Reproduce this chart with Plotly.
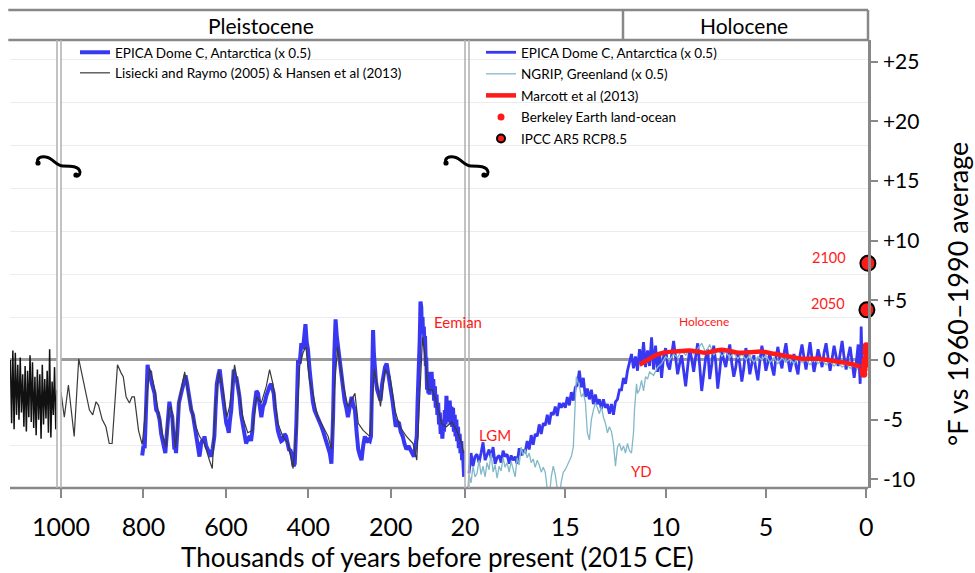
import plotly.graph_objects as go

FONT = "Lato"
BLUE = "#3838f2"
TEAL = "#82b9c8"
RED = "#ff1a1a"

# ---------------- data (ages in thousands of years before 2015, temps in °F vs 1960-1990) ----
# Lisiecki & Raymo / Hansen, oldest compressed segment
lr_old_age = [2140, 2110, 2080, 2050, 2020, 1990, 1960, 1930, 1900, 1870, 1840, 1810, 1780,
              1750, 1720, 1690, 1660, 1630, 1600, 1570, 1540, 1510, 1480, 1450, 1420, 1390,
              1360, 1330, 1300, 1270, 1240, 1210, 1180, 1150, 1120, 1090, 1060, 1030, 1005]
lr_old_temp = [0.0, -5.3, 0.8, -5.8, 0.6, -4.6, -0.4, -5.0, 0.2, -4.4, -1.2, -5.6, -0.5,
               -6.0, -0.9, -4.8, 0.4, -5.2, -0.2, -5.7, -1.4, -6.3, -0.8, -5.0, -1.2, -6.6,
               -0.4, -5.4, -1.6, -4.9, -0.9, -6.1, 0.9, -6.5, -1.8, -4.6, -0.6, -5.8, -2.5]

# Lisiecki & Raymo (2005) & Hansen et al (2013), 1000 -> 24 kyr
lr_pairs = [(1000, -2.7), (992, -4.8), (982, -2.1), (968, -6.4), (957, 0.1), (948, -1.4),
            (939, -3.1), (931, -4.2), (923, -4.6), (915, -3.5), (909, -3.8), (900, -5.0),
            (891, -5.6), (883, -7.0), (876, -7.0), (863, -0.4), (854, -1.1), (849, -1.4),
            (842, -3.1), (834, -3.6), (828, -3.1), (822, -3.1), (818, -4.2), (812, -5.9),
            (803, -7.1), (785, -0.7), (777, -1.7), (765, -4.2), (753, -6.4), (745, -7.3),
            (739, -4.2), (733, -3.9), (722, -7.4), (713, -3.4), (700, -1.0), (688, -3.4),
            (676, -5.3), (664, -6.4), (652, -7.0), (640, -8.4), (633, -9.1), (625, -3.6),
            (617, -1.0), (607, -2.5), (598, -4.8), (591, -3.9), (579, -0.4), (571, -2.0),
            (559, -4.8), (547, -6.1), (535, -5.9), (526, -3.1), (514, -3.6), (502, -2.2),
            (494, -0.8), (486, -2.0), (474, -5.3), (462, -6.4), (449, -7.0), (437, -9.1),
            (429, -5.9), (421, -0.5), (413, 0.6), (406, 1.1), (397, -1.7), (389, -2.8),
            (377, -4.8), (364, -5.6), (352, -6.4), (344, -7.5), (336, -2.0), (329, 1.1),
            (324, 0.0), (316, -2.0), (304, -3.9), (287, -2.8), (279, -5.3), (267, -5.9),
            (251, -6.4), (240, -0.8), (233, -2.0), (225, -3.9), (214, -0.8), (202, -1.4),
            (190, -4.2), (178, -5.6), (162, -6.4), (146, -7.0), (137, -8.4), (129, -2.0),
            (123, 1.9), (117, 0.3), (109, -2.5), (99, -2.5), (89, -3.6), (77, -5.3),
            (65, -5.6), (52, -5.2), (40, -5.9), (28, -7.0), (24, -7.8)]
lr_age = [a for a, t in lr_pairs]
lr_temp = [t for a, t in lr_pairs]

# EPICA Dome C (x 0.5), 800 -> 22 kyr
epica_b_pairs = [
    (803, -8.0), (800, -7.2), (797, -7.4), (793, -3.5), (790, -0.4), (787, -1.2), (784, -0.9),
    (781, -1.8), (777, -2.2), (773, -2.8), (771, -3.6), (769, -4.2), (765, -4.4), (761, -5.0),
    (757, -6.2), (753, -7.0), (750, -7.3), (747, -7.8), (744, -6.5), (741, -5.3), (739, -4.0),
    (737, -3.5), (734, -4.2), (730, -4.8), (727, -6.5), (725, -7.5), (723, -7.2), (721, -7.8),
    (717, -5.5), (714, -3.6), (710, -3.0), (706, -2.5), (702, -1.8), (698, -1.3), (694, -2.0),
    (690, -2.8), (687, -3.8), (684, -4.2), (680, -4.6), (676, -5.6), (672, -6.2), (668, -7.5),
    (666, -7.8), (664, -8.1), (660, -7.0), (657, -6.7), (654, -6.9), (652, -6.4), (648, -7.2),
    (644, -7.5), (640, -7.9), (636, -8.1), (632, -7.4), (628, -6.4), (625, -4.0), (622, -2.0),
    (618, -1.2), (615, -0.8), (611, -2.0), (607, -3.1), (603, -4.6), (599, -5.3), (596, -5.6),
    (593, -6.1), (590, -5.0), (587, -4.2), (584, -2.5), (581, -0.8), (578, -1.6), (575, -1.4),
    (571, -2.2), (567, -3.1), (563, -4.6), (559, -5.6), (555, -6.3), (551, -7.0), (547, -6.6),
    (542, -6.4), (539, -6.8), (536, -6.0), (533, -4.5), (530, -3.4), (526, -2.6), (522, -2.8),
    (518, -4.0), (514, -4.8), (510, -3.9), (506, -3.6), (502, -3.0), (498, -2.5), (494, -2.2),
    (490, -2.0), (487, -2.5), (484, -2.8), (481, -4.0), (478, -5.0), (474, -5.9), (470, -6.4),
    (466, -6.8), (462, -6.7), (458, -6.2), (454, -6.4), (450, -7.2), (447, -7.5), (443, -7.6),
    (439, -8.1), (436, -8.9), (433, -8.7), (429, -5.3), (425, 0.0), (421, -0.3), (417, 1.4),
    (413, 0.9), (409, 2.0), (407, 3.0), (404, 1.5), (401, 0.9), (397, -0.8), (393, -2.5),
    (389, -3.5), (385, -4.2), (381, -4.5), (377, -4.8), (373, -5.2), (368, -5.6), (364, -6.0),
    (360, -6.4), (356, -6.9), (352, -7.3), (348, -7.8), (344, -8.7), (340, -4.8), (337, 0.5),
    (334, 3.4), (331, 2.0), (328, 1.1), (324, -0.5), (320, -1.4), (316, -2.4), (312, -3.4),
    (308, -4.0), (304, -4.8), (300, -4.0), (295, -3.1), (291, -3.8), (287, -4.2), (283, -6.0),
    (279, -7.5), (275, -8.0), (271, -8.4), (267, -7.2), (263, -6.4), (259, -6.9), (255, -6.7),
    (251, -6.8), (248, -6.4), (245, -1.0), (243, 2.5), (241, 0.5), (239, -0.6), (236, -1.8),
    (233, -2.5), (229, -3.0), (225, -3.4), (221, -2.0), (217, -1.1), (214, -0.6), (210, -0.3),
    (207, -0.9), (204, -1.4), (200, -2.4), (196, -3.4), (192, -4.5), (188, -5.6), (184, -5.2),
    (180, -5.3), (176, -6.0), (171, -6.4), (167, -7.0), (162, -7.5), (157, -7.2), (152, -7.5),
    (148, -7.8), (144, -8.1), (141, -7.4), (137, -6.4), (135, -3.5), (132, -1.4), (130, 1.5),
    (129, 3.0), (128, 4.9), (127, 3.5), (126, 4.4), (125, 3.0), (123, 3.6), (122, 2.2),
    (120, 2.8), (118, 1.2), (117, 2.0), (115, -0.5), (114, 0.2), (112, -2.5), (111, -1.0),
    (109, -2.8), (108, -1.2), (106, -2.9), (105, -1.5), (103, -2.6), (101, -1.0), (99, -2.4),
    (97, -1.6), (95, -3.4), (93, -2.2), (91, -4.0), (89, -2.9), (87, -4.6), (85, -3.6),
    (83, -5.4), (81, -4.4), (79, -6.2), (77, -5.0), (75, -6.6), (73, -5.6), (71, -6.0),
    (69, -4.2), (67, -5.4), (65, -3.0), (63, -5.0), (61, -3.6), (59, -5.2), (57, -3.4),
    (55, -5.4), (53, -3.9), (51, -5.6), (49, -4.0), (47, -6.0), (45, -4.6), (43, -6.4),
    (41, -5.0), (39, -6.8), (37, -5.6), (35, -7.4), (33, -6.2), (31, -7.8), (29, -6.8),
    (27, -8.4), (25, -7.6), (23, -9.2), (22, -9.8)]
epica_b_age = [a for a, t in epica_b_pairs]
epica_b_temp = [t for a, t in epica_b_pairs]

# EPICA Dome C (x 0.5), last 20 kyr
epica_c_pairs = [
    (19.8, -9.5), (19.7, -7.8), (19.6, -8.9), (19.5, -8.1), (19.4, -7.9), (19.3, -8.6),
    (19.2, -7.8), (19.1, -6.9), (19.0, -8.4), (18.9, -8.0), (18.8, -7.5), (18.7, -8.2),
    (18.6, -7.3), (18.5, -8.7), (18.4, -8.2), (18.3, -8.0), (18.2, -8.6), (18.1, -7.6),
    (18.0, -8.1), (17.9, -7.9), (17.8, -8.7), (17.7, -8.0), (17.6, -8.4), (17.5, -8.1),
    (17.4, -8.7), (17.3, -7.4), (17.2, -8.0), (17.1, -7.6), (17.0, -7.7), (16.9, -6.8),
    (16.8, -7.5), (16.7, -6.3), (16.6, -7.1), (16.5, -6.2), (16.4, -6.4), (16.3, -5.4),
    (16.2, -6.2), (16.1, -5.3), (16.0, -5.5), (15.9, -4.6), (15.8, -5.4), (15.7, -4.4),
    (15.6, -4.6), (15.5, -3.9), (15.4, -4.7), (15.3, -3.6), (15.2, -4.0), (15.1, -3.6),
    (15.0, -4.0), (14.9, -3.1), (14.8, -3.8), (14.7, -2.7), (14.6, -3.4), (14.5, -2.3),
    (14.4, -2.1), (14.3, -0.9), (14.2, -2.3), (14.1, -1.5), (14.0, -3.1), (13.9, -2.4),
    (13.8, -3.3), (13.7, -2.5), (13.6, -3.7), (13.5, -2.9), (13.4, -3.7), (13.3, -3.3),
    (13.2, -4.1), (13.1, -3.3), (13.0, -4.0), (12.9, -3.7), (12.8, -4.5), (12.7, -3.7),
    (12.6, -4.6), (12.5, -3.5), (12.4, -3.3), (12.3, -2.5), (12.2, -2.5), (12.1, -1.5),
    (12.0, -2.0), (11.9, -0.9), (11.8, -0.3), (11.7, 0.5), (11.6, -0.7), (11.5, 0.3),
    (11.4, -0.9), (11.3, 0.9), (11.2, -0.3), (11.1, 1.5), (11.0, -0.6), (10.9, 0.8),
    (10.8, -0.5), (10.7, 1.9), (10.6, -0.8), (10.5, 1.2), (10.4, -1.0), (10.3, 0.6),
    (10.2, -1.5), (10.1, 0.3), (10.0, 1.0), (9.9, -0.4), (9.8, -0.8), (9.7, 0.6), (9.6, 1.6),
    (9.5, 0.2), (9.4, -1.2), (9.3, -0.3), (9.2, 0.4), (9.1, -0.9), (9.0, -2.2), (8.9, -0.6),
    (8.8, 0.9), (8.7, 0.1), (8.6, -1.0), (8.5, 0.3), (8.4, 1.4), (8.3, -0.5), (8.2, -2.6),
    (8.1, -1.2), (8.0, 0.2), (7.9, 0.9), (7.8, -1.6), (7.7, -0.4), (7.6, 1.2), (7.5, -0.2),
    (7.4, -2.4), (7.3, -0.9), (7.2, 0.8), (7.1, 0.0), (7.0, -0.6), (6.9, 0.5), (6.8, 1.3),
    (6.7, -0.3), (6.6, -1.4), (6.5, -0.6), (6.4, 0.7), (6.3, -0.4), (6.2, -1.8), (6.1, -0.7),
    (6.0, 1.0), (5.9, 0.2), (5.8, -1.2), (5.7, -0.3), (5.6, 0.4), (5.5, -0.8), (5.4, -1.7),
    (5.3, -0.1), (5.2, 1.2), (5.1, 0.3), (5.0, -0.9), (4.9, -0.2), (4.8, 0.6), (4.7, -0.6),
    (4.6, -1.3), (4.5, 0.2), (4.4, 1.1), (4.3, 0.0), (4.2, -0.7), (4.1, 0.5), (4.0, 1.4),
    (3.9, 0.1), (3.8, -1.0), (3.7, -0.2), (3.6, 0.5), (3.5, -0.5), (3.4, -1.2), (3.3, 0.4),
    (3.2, 1.3), (3.1, 0.2), (3.0, -0.8), (2.9, 0.3), (2.8, 1.5), (2.7, 0.1), (2.6, -1.0),
    (2.5, -0.1), (2.4, 0.9), (2.3, 0.2), (2.2, -0.6), (2.1, 0.6), (2.0, 1.4), (1.9, 0.2),
    (1.8, -0.9), (1.7, 0.1), (1.6, 1.2), (1.5, 0.3), (1.4, -0.5), (1.3, 0.5), (1.2, 1.6),
    (1.1, 0.2), (1.0, -0.8), (0.9, 0.3), (0.8, 1.1), (0.7, -0.2), (0.6, -1.5), (0.5, -0.3),
    (0.4, 1.3), (0.3, -2.0), (0.25, 2.8), (0.2, -0.5)]
epica_c_age = [a for a, t in epica_c_pairs]
epica_c_temp = [t for a, t in epica_c_pairs]

# NGRIP, Greenland (x 0.5)
ngrip_pairs = [
    (19.9, -11.5), (19.8, -9.6), (19.7, -10.3), (19.6, -8.9), (19.5, -9.8), (19.4, -9.5),
    (19.3, -8.4), (19.2, -9.6), (19.1, -8.9), (19.0, -9.8), (18.9, -8.6), (18.8, -9.2),
    (18.7, -7.8), (18.6, -9.4), (18.5, -8.8), (18.4, -9.9), (18.3, -8.9), (18.2, -9.3),
    (18.1, -8.2), (18.0, -9.0), (17.9, -8.6), (17.8, -9.4), (17.7, -8.5), (17.6, -9.2),
    (17.5, -9.8), (17.4, -8.2), (17.3, -8.8), (17.2, -7.3), (17.1, -8.0), (17.0, -7.5),
    (16.9, -8.2), (16.8, -7.8), (16.7, -8.6), (16.6, -8.3), (16.5, -9.0), (16.4, -8.4),
    (16.3, -8.8), (16.2, -9.4), (16.1, -9.0), (16.0, -9.4), (15.9, -10.8), (15.8, -11.5),
    (15.7, -9.8), (15.6, -8.9), (15.5, -9.6), (15.4, -10.8), (15.3, -11.5), (15.2, -10.2),
    (15.1, -9.4), (15.0, -9.2), (14.9, -8.8), (14.8, -8.4), (14.7, -8.1), (14.6, -7.3),
    (14.55, -5.5), (14.5, -3.4), (14.45, -1.4), (14.4, -1.7), (14.3, -2.2), (14.2, -3.1),
    (14.1, -2.8), (14.0, -3.5), (13.9, -6.1), (13.8, -6.7), (13.7, -5.0), (13.6, -4.2),
    (13.5, -3.6), (13.4, -4.0), (13.3, -4.5), (13.2, -3.9), (13.1, -4.8), (13.0, -5.3),
    (12.9, -6.1), (12.8, -5.6), (12.7, -6.0), (12.6, -7.0), (12.5, -8.9), (12.4, -7.3),
    (12.3, -7.0), (12.2, -7.6), (12.1, -7.2), (12.0, -7.8), (11.9, -7.0), (11.8, -7.6),
    (11.7, -7.8), (11.6, -6.1), (11.55, -4.2), (11.45, -2.0), (11.4, -2.8), (11.3, -2.5),
    (11.2, -1.7), (11.1, -2.6), (11.0, -1.4), (10.9, -1.6), (10.8, -1.0), (10.6, -1.3),
    (10.4, -0.6), (10.2, -0.3), (10.0, 0.3), (9.8, 0.0), (9.6, 0.5), (9.4, 0.2), (9.2, 0.8),
    (9.0, 0.4), (8.8, 0.9), (8.6, 0.5), (8.4, 1.0), (8.2, 1.4), (8.0, 0.6), (7.8, 1.3),
    (7.6, 0.4), (7.4, 0.9), (7.2, 0.3), (7.0, 0.7), (6.8, 0.2), (6.6, 0.6), (6.4, 0.1),
    (6.2, 0.5), (6.0, 0.0), (5.8, 0.4), (5.6, -0.2), (5.4, 0.3), (5.2, 0.0), (5.0, 0.4),
    (4.8, -0.2), (4.6, 0.2), (4.4, -0.3), (4.2, 0.2), (4.0, -0.2), (3.8, 0.1), (3.6, -0.3),
    (3.4, 0.2), (3.2, -0.2), (3.0, 0.0), (2.8, -0.4), (2.6, 0.1), (2.4, -0.3), (2.2, 0.0),
    (2.0, -0.4), (1.8, -0.1), (1.6, -0.5), (1.4, -0.2), (1.2, -0.6), (1.0, -0.3), (0.8, -0.7),
    (0.6, -0.4), (0.4, -0.8)]
ngrip_age = [a for a, t in ngrip_pairs]
ngrip_temp = [t for a, t in ngrip_pairs]

# Marcott et al (2013)
marcott_age = [11.3, 10.9, 10.5, 10.1, 9.7, 9.2, 8.8, 8.4, 8.0, 7.6, 7.2, 6.8, 6.35, 5.8,
               5.2, 4.7, 4.2, 3.7, 3.2, 2.8, 2.4, 1.9, 1.4, 1.0, 0.6, 0.3]
marcott_temp = [-0.4, 0.0, 0.4, 0.6, 0.7, 0.75, 0.8, 0.7, 0.6, 0.75, 0.85, 0.75, 0.6, 0.65,
                0.7, 0.55, 0.4, 0.25, 0.1, 0.1, 0.1, 0.0, -0.15, -0.25, -0.4, -0.55]

# Berkeley Earth land-ocean (1850-2015)
berkeley_age = [0.165, 0.15, 0.135, 0.12, 0.105, 0.09, 0.075, 0.06, 0.045, 0.03, 0.015, 0.005, 0.0]
berkeley_temp = [-0.9, -1.1, -1.0, -1.2, -0.8, -0.5, -0.4, -0.1, -0.3, 0.1, 0.6, 0.9, 1.2]

# IPCC AR5 RCP8.5 projections (2050, 2100 -> negative ages)
ipcc_age = [-0.035, -0.085]
ipcc_temp = [4.2, 8.1]
ipcc_label = ["2050", "2100"]

# axis ticks
b_tickvals = [1000, 800, 600, 400, 200, 20]
c_tickvals = [15, 10, 5, 0]
y_tickvals = [-10, -5, 0, 5, 10, 15, 20, 25]
y_ticktext = ["-10", "-5", "0", "+5", "+10", "+15", "+20", "+25"]
grid_vals = [-7.2, -3.6, 3.6, 7.2, 10.8, 14.4, 18.0, 21.6, 25.2]   # every 2 °C

# ---------------- geometry helpers (pixel layout of the frame) ----------------
PL, PR, PT, PB = 10, 868, 40, 488


def fx(px):
    return (px - PL) / (PR - PL)


def fy(py):
    return (PB - py) / (PB - PT)


Y_RANGE = [-10.73, 26.82]
C_RANGE = [20, -0.09]

fig = go.Figure()

fig.add_trace(go.Scatter(x=lr_old_age, y=lr_old_temp, xaxis="x", yaxis="y", mode="lines",
                         line=dict(color="#111111", width=1.5), showlegend=False,
                         hoverinfo="skip"))
fig.add_trace(go.Scatter(x=epica_b_age, y=epica_b_temp, xaxis="x2", yaxis="y", mode="lines",
                         line=dict(color=BLUE, width=4),
                         name="EPICA Dome C, Antarctica (x 0.5)", legend="legend",
                         legendgroup="g1"))
fig.add_trace(go.Scatter(x=lr_age, y=lr_temp, xaxis="x2", yaxis="y", mode="lines",
                         line=dict(color="#3a3a3a", width=1.2),
                         name="Lisiecki and Raymo (2005) & Hansen et al (2013)",
                         legend="legend", legendgroup="g2"))

fig.add_trace(go.Scatter(x=epica_c_age, y=epica_c_temp, xaxis="x3", yaxis="y", mode="lines",
                         line=dict(color=BLUE, width=2.8),
                         name="EPICA Dome C, Antarctica (x 0.5)", legend="legend2",
                         legendgroup="h1"))
fig.add_trace(go.Scatter(x=ngrip_age, y=ngrip_temp, xaxis="x3", yaxis="y", mode="lines",
                         line=dict(color=TEAL, width=1.3),
                         name="NGRIP, Greenland (x 0.5)", legend="legend2", legendgroup="h2"))
fig.add_trace(go.Scatter(x=marcott_age, y=marcott_temp, xaxis="x3", yaxis="y", mode="lines",
                         line=dict(color=RED, width=4.5, shape="spline"),
                         name="Marcott et al (2013)", legend="legend2", legendgroup="h3"))
fig.add_trace(go.Scatter(x=berkeley_age, y=berkeley_temp, xaxis="x3", yaxis="y",
                         mode="markers", marker=dict(color=RED, size=7),
                         cliponaxis=False,
                         name="Berkeley Earth land-ocean", legend="legend2", legendgroup="h4"))
# legend entry for IPCC (small symbol like the original legend)
fig.add_trace(go.Scatter(x=[None], y=[None], xaxis="x3", yaxis="y", mode="markers",
                         marker=dict(color=RED, size=8, line=dict(color="black", width=2)),
                         name="IPCC AR5 RCP8.5", legend="legend2", legendgroup="h5"))
fig.add_trace(go.Scatter(x=ipcc_age, y=ipcc_temp, xaxis="x3", yaxis="y", mode="markers",
                         marker=dict(color=RED, size=15, line=dict(color="black", width=2)),
                         cliponaxis=False, showlegend=False, legendgroup="h5"))

tick_common = dict(ticks="outside", ticklen=9, tickwidth=2, tickcolor="#888888",
                   showgrid=False, zeroline=False, showline=False, automargin=False,
                   tickfont=dict(size=25, family=FONT, color="black"),
                   ticklabelstandoff=8, fixedrange=True)

fig.update_layout(
    width=975, height=573,
    margin=dict(l=PL, r=975 - PR, t=PT, b=573 - PB, autoexpand=False),
    paper_bgcolor="white", plot_bgcolor="white",
    font=dict(family=FONT, color="black"),
    showlegend=True,
    xaxis=dict(domain=[0, fx(57)], range=[2150, 1000], showgrid=False, zeroline=False,
               showticklabels=False, ticks="", showline=False, fixedrange=True,
               automargin=False),
    xaxis2=dict(domain=[fx(61), fx(465)], range=[1000, 20], tickvals=b_tickvals,
                ticktext=[str(v) for v in b_tickvals], **tick_common),
    xaxis3=dict(domain=[fx(465), 1.0], range=C_RANGE, tickvals=c_tickvals,
                ticktext=[str(v) for v in c_tickvals], **tick_common),
    yaxis=dict(anchor="x3", side="right", range=Y_RANGE, tickvals=y_tickvals,
               ticktext=y_ticktext, showgrid=False, automargin=False,
               minor=dict(tickvals=grid_vals, showgrid=True, gridcolor="#ececec",
                          gridwidth=1, ticks=""),
               zeroline=True, zerolinecolor="#9a9a9a", zerolinewidth=2.5,
               ticks="outside", ticklen=7, tickwidth=2, tickcolor="#888888",
               showline=True, linecolor="#888888", linewidth=2.5,
               tickfont=dict(size=21, family=FONT, color="black"),
               ticklabelstandoff=1, fixedrange=True),
    legend=dict(x=fx(75), y=fy(37), xanchor="left", yanchor="top",
                bgcolor="rgba(0,0,0,0)", font=dict(size=13.5, family=FONT, color="black"),
                traceorder="grouped", tracegroupgap=0, itemwidth=30),
    legend2=dict(x=fx(481), y=fy(37), xanchor="left", yanchor="top",
                 bgcolor="rgba(0,0,0,0)", font=dict(size=13.5, family=FONT, color="black"),
                 traceorder="grouped", tracegroupgap=1, itemwidth=30),
)

shapes = []
GRAY = "#888888"
# bottom axis line
shapes.append(dict(type="line", xref="paper", yref="paper", x0=0, x1=1, y0=0, y1=0,
                   line=dict(color=GRAY, width=2.5), layer="above"))
# header band
htop = fy(10)
shapes.append(dict(type="line", xref="paper", yref="paper", x0=-0.002, x1=1, y0=htop, y1=htop,
                   line=dict(color=GRAY, width=2.5), layer="above"))
shapes.append(dict(type="line", xref="paper", yref="paper", x0=-0.002, x1=1, y0=1, y1=1,
                   line=dict(color=GRAY, width=2.5), layer="above"))
shapes.append(dict(type="line", xref="paper", yref="paper", x0=1, x1=1, y0=1, y1=htop,
                   line=dict(color=GRAY, width=2.5), layer="above"))
shapes.append(dict(type="line", xref="paper", yref="paper", x0=fx(623), x1=fx(623), y0=1,
                   y1=htop, line=dict(color=GRAY, width=2.5), layer="above"))
# axis-break double lines
for px in (57, 61, 465, 469):
    shapes.append(dict(type="line", xref="paper", yref="paper", x0=fx(px), x1=fx(px), y0=0,
                       y1=1, line=dict(color="#b4b4b4", width=1.6), layer="above"))


# break squiggles
def squiggle(cx, cy):
    pts = [("M", [(-21, -3)]), ("C", [(-23, -8), (-18, -10), (-13, -9)]),
           ("C", [(-6, -8), (-3, 0), (4, 0)]), ("C", [(12, 0), (20, 0), (21, 6)]),
           ("C", [(21, 10), (18, 11), (17, 9)])]
    s = ""
    for cmd, ps in pts:
        s += cmd + " " + " ".join(f"{fx(cx + dx):.5f},{fy(cy + dy):.5f}" for dx, dy in ps) + " "
    out = [dict(type="path", xref="paper", yref="paper", path=s.strip(),
                line=dict(color="black", width=3), layer="above")]
    for (dx, dy) in [(-21, -3), (17, 9)]:
        r = 2.6
        out.append(dict(type="circle", xref="paper", yref="paper",
                        x0=fx(cx + dx - r), x1=fx(cx + dx + r),
                        y0=fy(cy + dy + r), y1=fy(cy + dy - r),
                        fillcolor="black", line=dict(color="black", width=0), layer="above"))
    return out


shapes += squiggle(59, 166)
shapes += squiggle(467, 166)

annotations = [
    dict(text="Pleistocene", xref="paper", yref="paper", x=fx(261), y=fy(25), showarrow=False,
         font=dict(size=21, family=FONT, color="black"), xanchor="center", yanchor="middle"),
    dict(text="Holocene", xref="paper", yref="paper", x=fx(744), y=fy(25), showarrow=False,
         font=dict(size=21, family=FONT, color="black"), xanchor="center", yanchor="middle"),
    dict(text="Thousands of years before present (2015 CE)", xref="paper", yref="paper",
         x=fx(437), y=fy(557), showarrow=False, font=dict(size=26, family=FONT, color="black"),
         xanchor="center", yanchor="middle"),
    dict(text="°F vs 1960–1990 average", xref="paper", yref="paper", x=fx(957), y=fy(294),
         showarrow=False, textangle=-90, font=dict(size=27, family=FONT, color="black"),
         xanchor="center", yanchor="middle"),
    dict(text="Eemian", xref="x2", yref="y", x=37, y=3.2, showarrow=False,
         font=dict(size=15, family=FONT, color=RED)),
    dict(text="LGM", xref="x3", yref="y", x=18.5, y=-6.3, showarrow=False,
         font=dict(size=15, family=FONT, color=RED)),
    dict(text="YD", xref="x3", yref="y", x=11.2, y=-9.3, showarrow=False,
         font=dict(size=15, family=FONT, color=RED)),
    dict(text="Holocene", xref="x3", yref="y", x=8.1, y=3.2, showarrow=False,
         font=dict(size=12, family=FONT, color=RED)),
]
for a, t, lab in zip(ipcc_age, ipcc_temp, ipcc_label):
    annotations.append(dict(text=lab, xref="x3", yref="y", x=a, y=t, showarrow=False,
                            xanchor="right", yanchor="middle", xshift=-20, yshift=6,
                            font=dict(size=14.5, family=FONT, color=RED)))

fig.update_layout(shapes=shapes, annotations=annotations)

fig.write_html("out.html")
